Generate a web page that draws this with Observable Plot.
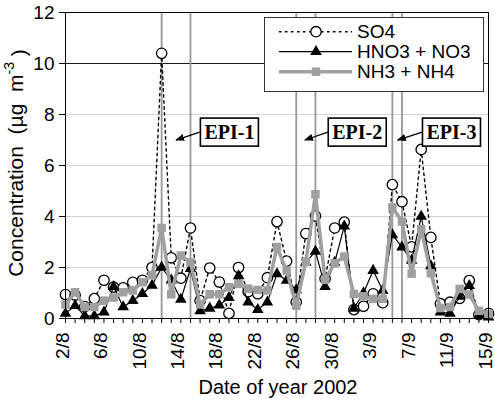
<!DOCTYPE html>
<html><head><meta charset="utf-8">
<script src="https://cdn.jsdelivr.net/npm/d3@7"></script>
<script src="https://cdn.jsdelivr.net/npm/@observablehq/plot@0.6"></script>
<style>html,body{margin:0;padding:0;background:#fff} svg{display:block}</style>
</head><body><div id="chart"></div>
<script>
const dates = ["2/8","3/8","4/8","5/8","6/8","7/8","8/8","9/8","10/8","11/8","12/8","13/8","14/8","15/8","16/8","17/8","18/8","19/8","20/8","21/8","22/8","23/8","24/8","25/8","26/8","27/8","28/8","29/8","30/8","31/8","1/9","2/9","3/9","4/9","5/9","6/9","7/9","8/9","9/9","10/9","11/9","12/9","13/9","14/9","15/9"];
const so4  = [0.94,0.92,0.47,0.78,1.5,1.23,1.2,1.42,1.5,2.0,10.4,2.38,1.58,3.55,0.7,1.98,1.43,0.2,2.0,1.05,0.97,1.6,3.8,2.25,0.64,3.33,4.02,1.56,3.55,3.78,0.35,0.48,0.97,0.62,5.25,4.58,2.81,6.63,3.18,0.58,0.64,0.79,1.49,0.15,0.2];
const hno3 = [0.2,0.5,0.1,0.1,0.25,1.25,0.45,0.7,0.97,1.3,2.0,1.5,0.75,1.95,0.3,0.4,0.52,0.82,1.67,0.64,0.35,0.64,1.75,1.49,1.12,2.2,2.63,1.25,2.2,3.62,0.4,1.0,1.88,1.1,3.28,2.8,2.28,4.0,2.06,0.25,0.2,0.87,1.29,0.12,0.05];
const nh3  = [0.55,1.03,0.45,0.45,0.7,0.82,1.03,1.1,1.42,1.7,3.55,0.95,2.47,2.2,0.55,0.95,0.95,1.23,1.36,1.17,1.12,1.1,2.8,1.88,0.5,2.22,4.87,1.52,2.17,2.43,0.96,0.87,0.77,0.77,4.36,3.8,1.76,3.5,1.78,0.41,0.45,1.16,0.94,0.3,0.18];
const seriesNames = ["SO4","HNO3 + NO3","NH3 + NH4"];
const xTickLabels = ["2/8","6/8","10/8","14/8","18/8","22/8","26/8","30/8","3/9","7/9","11/9","15/9"];
const yTicks = [0,2,4,6,8,10,12];
const episodeDates = ["12/8","15/8","26/8","28/8","5/9","6/9"];
const episodeLabels = ["EPI-1","EPI-2","EPI-3"];
const episodeLabelDay = [17.1, 30.4, 40.2];
const episodeLabelConc = [7.29, 7.29, 7.29];
const episodeArrowFromDay = [14.0, 27.35, 37.15];
const episodeArrowToDay = [11.55, 24.95, 34.6];
const episodeArrowToConc = [6.98, 6.98, 6.98];
const xTitle = "Date of year 2002";

const days = d3.range(dates.length);
const rows = days.map(i => ({i, date: dates[i], so4: so4[i], hno3: hno3[i], nh3: nh3[i]}));
const tickDays = xTickLabels.map(l => dates.indexOf(l));
const FONT = "'Liberation Sans', Arial, sans-serif";
const GRAY = "#a0a0a0";

const plot = Plot.plot({
  width: 495, height: 405,
  marginLeft: 65, marginRight: 7, marginTop: 12, marginBottom: 87,
  style: {fontFamily: FONT, fontSize: "19px", color: "#000", background: "#fff", overflow: "visible"},
  x: {type: "linear", domain: [0, dates.length - 1]},
  y: {domain: [0, 12]},
  marks: [
    Plot.ruleY([2,4,6,8], {stroke: "#d4d4d4", strokeWidth: 1}),
    Plot.ruleY([10], {stroke: "#000", strokeWidth: 0.9}),
    Plot.ruleX(episodeDates.map(d => dates.indexOf(d)), {stroke: "#999", strokeWidth: 1.8}),
    Plot.line(rows, {x: "i", y: "so4", stroke: "#000", strokeWidth: 1.4, strokeDasharray: "2.5,3.5"}),
    Plot.dot(rows, {x: "i", y: "so4", r: 5.2, fill: "#fff", stroke: "#000", strokeWidth: 1.3}),
    Plot.line(rows, {x: "i", y: "hno3", stroke: "#000", strokeWidth: 1.2}),
    Plot.dot(rows, {x: "i", y: "hno3", symbol: "triangle", r: 4.3, fill: "#000"}),
    Plot.line(rows, {x: "i", y: "nh3", stroke: GRAY, strokeWidth: 3.5}),
    Plot.dot(rows, {x: "i", y: "nh3", symbol: "square", r: 4.8, fill: GRAY}),
    Plot.axisY({ticks: yTicks, tickSize: 6, tickPadding: 5, label: null}),
    Plot.axisX({ticks: days, tickFormat: () => "", tickSize: 5, label: null}),
    Plot.axisX({ticks: tickDays, tickFormat: i => dates[i], tickRotate: -90, tickSize: 5, tickPadding: 9, dx: -3, strokeOpacity: 0, label: null}),
    Plot.frame({stroke: "#000", strokeWidth: 1})
  ]
});
document.getElementById("chart").appendChild(plot);

const svg = d3.select(plot);
const xs = plot.scale("x"), ys = plot.scale("y");

// Episode annotations
const ann = svg.append("g");
ann.append("defs").append("marker")
  .attr("id", "ah").attr("viewBox", "0 0 10 10").attr("refX", 9).attr("refY", 5)
  .attr("markerWidth", 7).attr("markerHeight", 7).attr("orient", "auto")
  .append("path").attr("d", "M0,1L10,5L0,9Z").attr("fill", "#000");
episodeLabels.forEach((lab, k) => {
  const cx = xs.apply(episodeLabelDay[k]), cy = ys.apply(episodeLabelConc[k]);
  ann.append("line")
    .attr("x1", xs.apply(episodeArrowFromDay[k])).attr("y1", cy)
    .attr("x2", xs.apply(episodeArrowToDay[k])).attr("y2", ys.apply(episodeArrowToConc[k]))
    .attr("stroke", "#000").attr("stroke-width", 1.3).attr("marker-end", "url(#ah)");
  const w = 58, h = 28;
  ann.append("rect").attr("fill", "#fff").attr("stroke", "#000").attr("stroke-width", 1.6)
    .attr("x", cx - w / 2).attr("y", cy - h / 2).attr("width", w).attr("height", h);
  ann.append("text").attr("x", cx).attr("y", cy).attr("text-anchor", "middle")
    .attr("dominant-baseline", "central")
    .style("font-family", "'Liberation Serif', 'Times New Roman', serif").style("font-weight", "bold").style("font-size", "20px")
    .text(lab);
});

// Legend
const lg = svg.append("g").style("font-family", FONT).style("font-size", "19px");
lg.append("rect").attr("x", 264.5).attr("y", 17.5).attr("width", 219).attr("height", 74)
  .attr("fill", "#fff").attr("stroke", "#333").attr("stroke-width", 1);
const legendStyles = [
  {stroke: "#000", w: 1.4, dash: "2.5,3.5", sym: "circle"},
  {stroke: "#000", w: 1.2, dash: null, sym: "triangle"},
  {stroke: GRAY, w: 3.5, dash: null, sym: "square"}
];
seriesNames.forEach((name, k) => {
  const y = 31.7 + 20 * k, s = legendStyles[k];
  lg.append("line").attr("x1", 279).attr("x2", 352).attr("y1", y).attr("y2", y)
    .attr("stroke", s.stroke).attr("stroke-width", s.w).attr("stroke-dasharray", s.dash);
  if (s.sym === "circle") lg.append("circle").attr("cx", 316).attr("cy", y).attr("r", 5.2).attr("fill", "#fff").attr("stroke", "#000").attr("stroke-width", 1.3);
  else if (s.sym === "triangle") lg.append("path").attr("transform", `translate(316,${y})`).attr("d", d3.symbol(d3.symbolTriangle, Math.PI * 4.3 * 4.3)()).attr("fill", "#000");
  else lg.append("path").attr("transform", `translate(316,${y})`).attr("d", d3.symbol(d3.symbolSquare, Math.PI * 4.8 * 4.8)()).attr("fill", GRAY);
  lg.append("text").attr("x", 357).attr("y", y).attr("text-anchor", "start").attr("dominant-baseline", "central").text(name);
});

// Axis titles
const yt = svg.append("text").attr("transform", "translate(15,163) rotate(-90)").attr("text-anchor", "middle")
  .attr("dominant-baseline", "central").style("font-family", FONT).style("font-size", "21px");
yt.append("tspan").text("Concentration  (\u00b5g  m");
yt.append("tspan").attr("dy", "-0.45em").style("font-size", "14px").text("-3");
yt.append("tspan").attr("dy", "0.45em").text(" )");
svg.append("text").attr("x", 278).attr("y", 394).attr("text-anchor", "middle")
  .style("font-family", FONT).style("font-size", "20px").text(xTitle);
</script>
</body></html>
